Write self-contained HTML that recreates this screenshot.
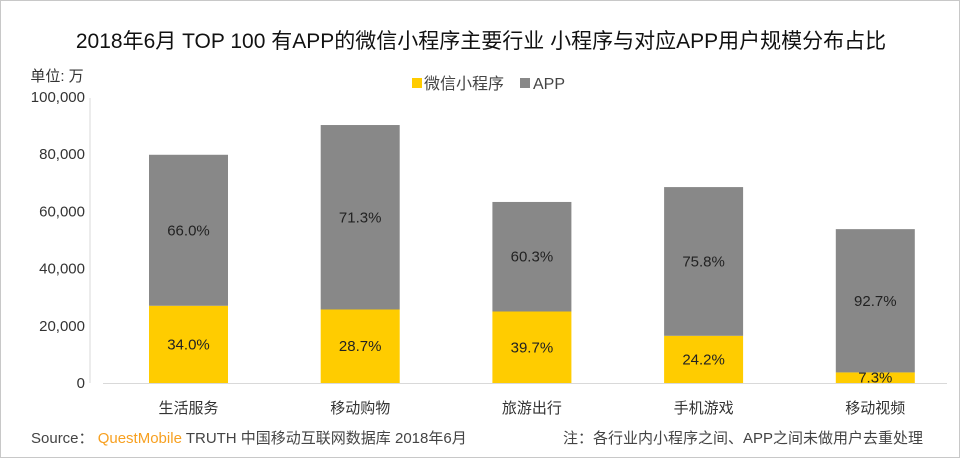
<!DOCTYPE html>
<html><head><meta charset="utf-8"><style>
html,body{margin:0;padding:0;background:#fff;}
#wrap{position:relative;width:960px;height:458px;box-sizing:border-box;border:1px solid #c8c8c8;overflow:hidden;font-family:"Liberation Sans","Noto Sans CJK SC",sans-serif;}
svg text{font-family:"Liberation Sans","Noto Sans CJK SC",sans-serif;}
</style></head><body>
<div id="wrap">
<svg id="chart" width="960" height="458">
<text x="480" y="47" text-anchor="middle" font-size="21" fill="#111">2018年6月 TOP 100 有APP的微信小程序主要行业 小程序与对应APP用户规模分布占比</text>
<text x="56" y="80" text-anchor="middle" font-size="15" fill="#333">单位: 万</text>
<g>
<rect x="411" y="77" width="10" height="10" fill="#FFCC00"/>
<text x="423" y="88" font-size="16" fill="#444">微信小程序</text>
<rect x="519" y="77" width="10" height="10" fill="#888"/>
<text x="532" y="88" font-size="16" fill="#444">APP</text>
</g>
<line x1="89" y1="97" x2="89" y2="382" stroke="#d9d9d9"/>
<line x1="102" y1="382.5" x2="946" y2="382.5" stroke="#d9d9d9"/>
<g id="yt"></g><g id="bars"></g>
<text x="30" y="442" font-size="15" fill="#444">Source： <tspan fill="#F7A020">QuestMobile</tspan> TRUTH 中国移动互联网数据库 2018年6月</text>
<text x="922" y="442" text-anchor="end" font-size="15" fill="#444">注：各行业内小程序之间、APP之间未做用户去重处理</text>
</svg>
</div>
<script>
var categories=["生活服务","移动购物","旅游出行","手机游戏","移动视频"];
var miniValues=[27000,25700,25000,16500,3700];
var appValues=[52800,64500,38300,52000,50100];
var miniLabels=["34.0%","28.7%","39.7%","24.2%","7.3%"];
var appLabels=["66.0%","71.3%","60.3%","75.8%","92.7%"];
var yTicks=[0,20000,40000,60000,80000,100000];
var yTickLabels=["0","20,000","40,000","60,000","80,000","100,000"];
var NS="http://www.w3.org/2000/svg";
function y(v){return 382-v*(286/100000);}
function xc(i){return 187.5+i*171.7;}
function mk(tag,attrs,parent,txt){var e=document.createElementNS(NS,tag);for(var k in attrs)e.setAttribute(k,attrs[k]);if(txt!=null)e.textContent=txt;parent.appendChild(e);return e;}
var yt=document.getElementById('yt'),bars=document.getElementById('bars');
yTicks.forEach(function(t,i){
 var e=mk('text',{x:84,y:y(t)+5,'text-anchor':'end','font-size':15,fill:'#333'},yt,yTickLabels[i]);
 
 
});
var bw=79;
categories.forEach(function(c,i){
 var x=xc(i)-bw/2,m=miniValues[i],a=appValues[i];
 var r1=mk('rect',{x:x,y:y(m),width:bw,height:382-y(m),fill:'#FFCC00'},bars);
 
 
 var r2=mk('rect',{x:x,y:y(m+a),width:bw,height:y(m)-y(m+a),fill:'#888888'},bars);
 
 
 var t1=mk('text',{x:xc(i),y:(y(m)+382)/2+5,'text-anchor':'middle','font-size':15,fill:'#222'},bars,miniLabels[i]);
 
 
 var t2=mk('text',{x:xc(i),y:(y(m)+y(m+a))/2+5,'text-anchor':'middle','font-size':15,fill:'#222'},bars,appLabels[i]);
 
 
 var t3=mk('text',{x:xc(i),y:412,'text-anchor':'middle','font-size':15,fill:'#333'},bars,c);
 
 
});
</script>
</body></html>
